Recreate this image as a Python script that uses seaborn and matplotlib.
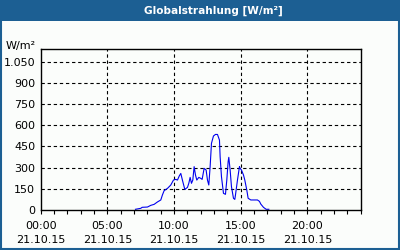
import pandas as pd
import matplotlib
matplotlib.use('Agg')
import matplotlib.pyplot as plt
import matplotlib.ticker as mticker
from matplotlib.patches import Rectangle
import seaborn as sns

# Globalstrahlung, 21.10.15 (hour of day, W/m²)
hours = [7.1, 7.5, 7.6, 8.0, 8.25, 8.5, 8.75, 9.0, 9.12, 9.25, 9.5, 9.75, 9.95,
         10.12, 10.25, 10.38, 10.5, 10.62, 10.8, 11.0, 11.1, 11.2, 11.3, 11.4, 11.5,
         11.6, 11.7, 11.85, 12.0, 12.1, 12.25, 12.4, 12.5, 12.6, 12.7, 12.8, 12.95,
         13.1, 13.25, 13.4, 13.45, 13.55, 13.7, 13.85, 13.95, 14.05, 14.1, 14.2, 14.3,
         14.45, 14.55, 14.6, 14.75, 14.9, 14.95, 15.05, 15.2, 15.3, 15.45, 15.55,
         15.75, 16.0, 16.25, 16.4, 16.5, 16.7, 16.9, 17.1]
values = [5, 12, 19, 21, 33, 40, 57, 71, 106, 137, 153, 177, 212,
          217, 212, 240, 259, 212, 146, 160, 189, 231, 189, 212, 307,
          248, 212, 231, 224, 217, 295, 283, 212, 177, 307, 472, 524,
          535, 535, 495, 377, 236, 118, 111, 212, 342, 373, 283, 165,
          83, 75, 106, 212, 307, 295, 283, 248, 212, 141, 83,
          71, 71, 71, 61, 42, 19, 5, 5]

y_ticks = [0, 150, 300, 450, 600, 750, 900, 1050]
x_ticks = [0, 5, 10, 15, 20]
x_labels = ['00:00\n21.10.15', '05:00\n21.10.15', '10:00\n21.10.15',
            '15:00\n21.10.15', '20:00\n21.10.15']

df = pd.DataFrame({'hour': hours, 'value': values})

bg = '#fbfdfb'
frame_blue = '#1c5f93'

fig = plt.figure(figsize=(4, 2.5), dpi=100, facecolor=bg)
ax = fig.add_axes([0.102, 0.16, 0.8, 0.644])
ax.set_facecolor(bg)

sns.lineplot(x='hour', y='value', data=df, ax=ax, color='#0000ee', linewidth=0.8)

ax.set_xlim(0, 24)
ax.set_ylim(0, 1140)
ax.set_xlabel('')
ax.set_ylabel('')

ax.set_xticks(x_ticks)
ax.set_xticklabels(x_labels, fontsize=8, linespacing=1.45)
ax.xaxis.set_minor_locator(mticker.MultipleLocator(1))
ax.tick_params(axis='x', which='both', direction='out', length=3, width=0.8, pad=5)

ax.set_yticks(y_ticks)
ax.set_yticklabels([f'{v:,}'.replace(',', '.') for v in y_ticks], fontsize=8)
ax.tick_params(axis='y', length=0, pad=4)

# dashed grid (skip the zero line)
for x in x_ticks[1:]:
    ax.axvline(x, color='black', linestyle=(0, (3, 2.5)), linewidth=0.8, zorder=1)
for y in y_ticks[1:]:
    ax.axhline(y, color='black', linestyle=(0, (3, 2.5)), linewidth=0.8, zorder=1)

for s in ax.spines.values():
    s.set_linewidth(1.0)
    s.set_color('black')

# unit label above the y axis
fig.text(36 / 400, 1 - 46 / 250, 'W/m²', ha='right', va='center', fontsize=8)

# title bar and frame
fig.patches.append(Rectangle((0, 1 - 21 / 250), 1, 21 / 250, transform=fig.transFigure,
                             facecolor=frame_blue, edgecolor='none', zorder=0))
fig.patches.append(Rectangle((0.002, 0.003), 0.995, 0.994, transform=fig.transFigure,
                             facecolor='none', edgecolor=frame_blue, linewidth=1.5, zorder=5))
fig.text(213 / 400, 1 - 10.5 / 250, 'Globalstrahlung [W/m²]', ha='center', va='center',
         color='white', fontsize=7.6, fontweight='bold')

fig.savefig('out.png', dpi=100, facecolor=bg)
